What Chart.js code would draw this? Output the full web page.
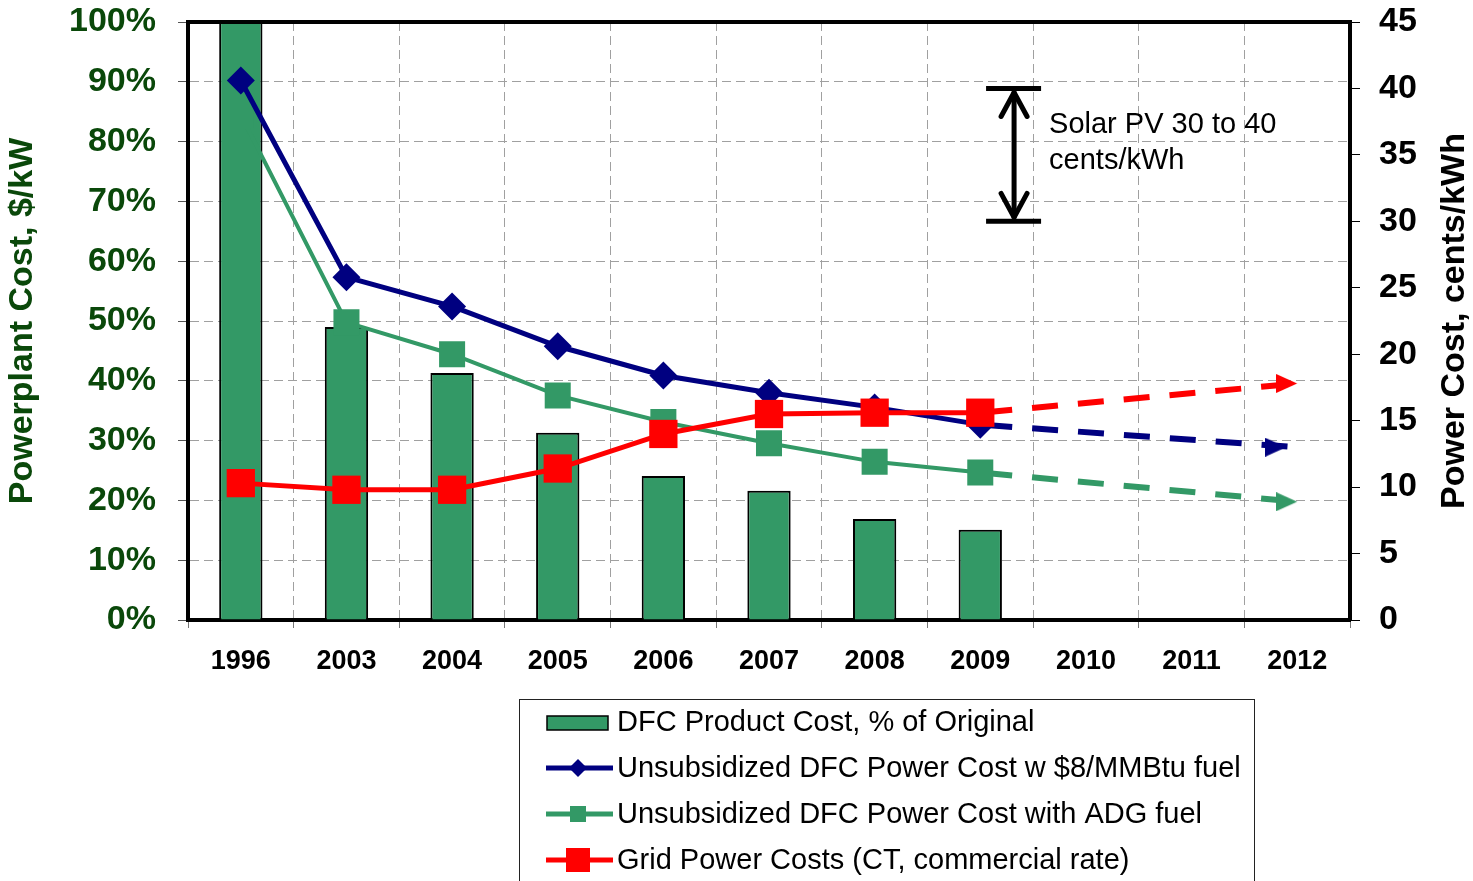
<!DOCTYPE html>
<html><head><meta charset="utf-8">
<script src="https://cdn.jsdelivr.net/npm/chart.js@4.4.1/dist/chart.umd.min.js"></script>
<style>html,body{margin:0;padding:0;background:#fff;overflow:hidden}canvas{display:block}</style>
</head><body>
<canvas id="c" width="1473" height="881"></canvas>
<script>
// ---------- DATA ----------
const categories = ['1996','2003','2004','2005','2006','2007','2008','2009','2010','2011','2012'];
const productCostPct = [100, 49, 41.3, 31.3, 24.1, 21.6, 16.9, 15.1, null, null, null];
const powerCostNG   = [40.6, 25.8, 23.6, 20.6, 18.4, 17.1, 16.0, 14.7, null, null, null];
const powerCostADG  = [38.0, 22.4, 20.0, 16.9, 14.9, 13.3, 11.9, 11.1, null, null, null];
const gridCost      = [10.3, 9.8, 9.8, 11.4, 14.0, 15.5, 15.6, 15.6, null, null, null];
const projNG   = [null, null, null, null, null, null, null, 14.7, null, null, 13.0];
const projADG  = [null, null, null, null, null, null, null, 11.1, null, null, 8.9];
const projGrid = [null, null, null, null, null, null, null, 15.6, null, null, 17.8];
const leftTickMax = 100, leftTickStep = 10;
const rightTickMax = 45, rightTickStep = 5;
const solarRange = [30, 40];
const solarText = ['Solar PV 30 to 40', 'cents/kWh'];
const seriesLabels = ['DFC Product Cost, % of Original',
  'Unsubsidized DFC Power Cost w $8/MMBtu fuel',
  'Unsubsidized DFC Power Cost with ADG fuel',
  'Grid Power Costs (CT, commercial rate)'];
const leftTitle = 'Powerplant Cost, $/kW';
const rightTitle = 'Power Cost, cents/kWh';

// ---------- STYLE ----------
const FONT = '"Liberation Sans", Arial, Helvetica, sans-serif';
const GREEN = '#339966', NAVY = '#000080', RED = '#ff0000', DKGREEN = '#0a480a';

function arrowImg(color, back) {
  const L = 21, H = 19;
  const c = document.createElement('canvas');
  c.width = 2 * (L + back); c.height = H;
  const g = c.getContext('2d');
  g.fillStyle = color;
  g.beginPath(); g.moveTo(0, 0); g.lineTo(L, H / 2); g.lineTo(0, H); g.closePath(); g.fill();
  return c;
}
const arrows = {navy: arrowImg(NAVY, 11), green: arrowImg(GREEN, 0), red: arrowImg(RED, 0)};
const lastOnly = (r) => categories.map((_, i) => i === categories.length - 1 ? r : 0);

function projDataset(data, color, img, order) {
  return {
    type: 'line', data, yAxisID: 'y1', borderColor: color, backgroundColor: color,
    borderWidth: 6, borderDash: [26, 20], borderDashOffset: 40, spanGaps: true,
    pointStyle: img, pointRadius: lastOnly(10), pointHoverRadius: 0,
    pointBorderWidth: 0, order
  };
}
const noPad = (s) => { s.paddingTop = 0; s.paddingBottom = 0; s.paddingLeft = 0; s.paddingRight = 0; };

const framePlugin = {
  id: 'frame',
  afterDatasetsDraw(chart) {
    const {ctx, chartArea: a} = chart;
    ctx.save();
    ctx.strokeStyle = '#000'; ctx.lineWidth = 4;
    ctx.beginPath();
    ctx.moveTo(a.left - 2, a.top); ctx.lineTo(a.right + 2, a.top);
    ctx.stroke();

    // Solar PV annotation
    const xs = chart.scales.x, ys = chart.scales.y1;
    const cw = xs.getPixelForValue(1) - xs.getPixelForValue(0);
    const ax = xs.getPixelForValue(7) + 0.32 * cw;
    const yT = ys.getPixelForValue(solarRange[1]);
    const yB = ys.getPixelForValue(solarRange[0]);
    ctx.lineWidth = 5; ctx.lineCap = 'butt';
    ctx.beginPath();
    ctx.moveTo(ax - 28, yT); ctx.lineTo(ax + 27, yT);
    ctx.moveTo(ax - 28, yB); ctx.lineTo(ax + 27, yB);
    ctx.moveTo(ax, yT + 3); ctx.lineTo(ax, yB - 3);
    ctx.stroke();
    ctx.lineCap = 'round'; ctx.lineJoin = 'round';
    ctx.beginPath();
    ctx.moveTo(ax - 13, yT + 28); ctx.lineTo(ax, yT + 4); ctx.lineTo(ax + 13, yT + 28);
    ctx.moveTo(ax - 13, yB - 28); ctx.lineTo(ax, yB - 4); ctx.lineTo(ax + 13, yB - 28);
    ctx.stroke();
    ctx.fillStyle = '#000';
    ctx.font = '29px ' + FONT;
    ctx.textBaseline = 'alphabetic'; ctx.textAlign = 'left';
    ctx.fillText(solarText[0], ax + 35, yT + 45);
    ctx.fillText(solarText[1], ax + 35, yT + 81);
    ctx.restore();
  },
  afterDraw(chart) {
    const {ctx, chartArea: a} = chart;
    ctx.save();
    // axis titles
    const cy = (a.top + a.bottom) / 2;
    ctx.font = 'bold 34px ' + FONT;
    ctx.textAlign = 'center'; ctx.textBaseline = 'middle';
    ctx.fillStyle = DKGREEN;
    ctx.translate(23, cy); ctx.rotate(-Math.PI / 2); ctx.fillText(leftTitle, 0, 0);
    ctx.setTransform(1, 0, 0, 1, 0, 0);
    ctx.fillStyle = '#000';
    ctx.translate(chart.width - 18, cy); ctx.rotate(-Math.PI / 2); ctx.fillText(rightTitle, 0, 0);
    ctx.setTransform(1, 0, 0, 1, 0, 0);

    // legend
    const lx = 519.5, ly = 699.5, lw = 735;
    ctx.strokeStyle = '#222'; ctx.lineWidth = 1;
    ctx.strokeRect(lx, ly, lw, 300);
    const rows = [722, 768, 814, 860];
    const ds = chart.data.datasets;
    ctx.font = '29px ' + FONT;
    ctx.textAlign = 'left'; ctx.textBaseline = 'middle';
    // bar
    ctx.fillStyle = ds[7].backgroundColor; ctx.strokeStyle = '#000'; ctx.lineWidth = 1.5;
    ctx.fillRect(547, rows[0] - 6, 61, 14); ctx.strokeRect(547, rows[0] - 6, 61, 14);
    const lineItem = (y, color, shape, s) => {
      ctx.strokeStyle = color; ctx.lineWidth = 5;
      ctx.beginPath(); ctx.moveTo(546, y); ctx.lineTo(613, y); ctx.stroke();
      ctx.fillStyle = color;
      const cx = 578;
      ctx.beginPath();
      if (shape === 'diamond') {
        ctx.moveTo(cx - s, y); ctx.lineTo(cx, y - s); ctx.lineTo(cx + s, y); ctx.lineTo(cx, y + s);
        ctx.closePath(); ctx.fill();
      } else {
        ctx.fillRect(cx - s, y - s, 2 * s, 2 * s);
      }
    };
    lineItem(rows[1], ds[1].borderColor, 'diamond', 9);
    lineItem(rows[2], ds[2].borderColor, 'square', 8);
    lineItem(rows[3], ds[0].borderColor, 'square', 12);
    ctx.fillStyle = '#000';
    seriesLabels.forEach((t, i) => ctx.fillText(t, 617, rows[i] + 1));
    ctx.restore();
  }
};

new Chart(document.getElementById('c'), {
  type: 'bar',
  data: {
    labels: categories,
    datasets: [
      {type: 'line', label: seriesLabels[3], data: gridCost, yAxisID: 'y1',
        borderColor: RED, backgroundColor: RED, borderWidth: 5,
        pointStyle: 'rect', pointRadius: 20, pointHoverRadius: 20, pointBorderWidth: 0, order: 0},
      {type: 'line', label: seriesLabels[1], data: powerCostNG, yAxisID: 'y1',
        borderColor: NAVY, backgroundColor: NAVY, borderWidth: 5,
        pointStyle: 'rectRot', pointRadius: 14, pointHoverRadius: 14, pointBorderWidth: 0, order: 2},
      {type: 'line', label: seriesLabels[2], data: powerCostADG, yAxisID: 'y1',
        borderColor: GREEN, backgroundColor: GREEN, borderWidth: 4,
        pointStyle: 'rect', pointRadius: 18.4, pointHoverRadius: 18.4, pointBorderWidth: 0, order: 4},
      projDataset(projGrid, RED, arrows.red, 1),
      projDataset(projNG, NAVY, arrows.navy, 3),
      projDataset(projADG, GREEN, arrows.green, 5),
      {type: 'scatter', data: [], yAxisID: 'y1', order: 9, showLine: false},
      {type: 'bar', label: seriesLabels[0], data: productCostPct, yAxisID: 'y',
        backgroundColor: GREEN, borderColor: '#000', borderWidth: 2,
        barPercentage: 0.41, categoryPercentage: 1, order: 10}
    ]
  },
  options: {
    responsive: false, animation: false, devicePixelRatio: 1,
    layout: {padding: {top: 22, left: 0, right: 0, bottom: 0}},
    plugins: {legend: {display: false}, tooltip: {enabled: false}},
    events: [],
    scales: {
      x: {
        type: 'category', offset: true,
        grid: {offset: true, color: '#a0a0a0', lineWidth: 1, tickLength: 8,
          tickColor: '#777', tickWidth: 1, tickBorderDash: []},
        border: {display: true, color: '#000', width: 4, dash: [9, 5]},
        ticks: {color: '#000', font: {family: FONT, size: 27, weight: 'bold'}, padding: 17, maxRotation: 0},
        afterFit(s) { s.height = 261; noPad(s); }
      },
      y: {
        position: 'left', min: 0, max: leftTickMax,
        grid: {color: '#a0a0a0', lineWidth: 1, tickLength: 10, tickColor: '#555', tickWidth: 1, tickBorderDash: []},
        border: {display: true, color: '#000', width: 4, dash: [9, 5]},
        ticks: {stepSize: leftTickStep, color: DKGREEN, padding: 22,
          font: {family: FONT, size: 34, weight: 'bold'}, callback: v => v + '%'},
        afterFit(s) { s.width = 188; noPad(s); }
      },
      y1: {
        position: 'right', min: 0, max: rightTickMax,
        grid: {drawOnChartArea: false, tickLength: 10, tickColor: '#000', tickWidth: 1},
        border: {display: true, color: '#000', width: 4},
        ticks: {stepSize: rightTickStep, color: '#000', padding: 19,
          font: {family: FONT, size: 34, weight: 'bold'}},
        afterFit(s) { s.width = 123; noPad(s); }
      }
    }
  },
  plugins: [framePlugin]
});
</script>
</body></html>
